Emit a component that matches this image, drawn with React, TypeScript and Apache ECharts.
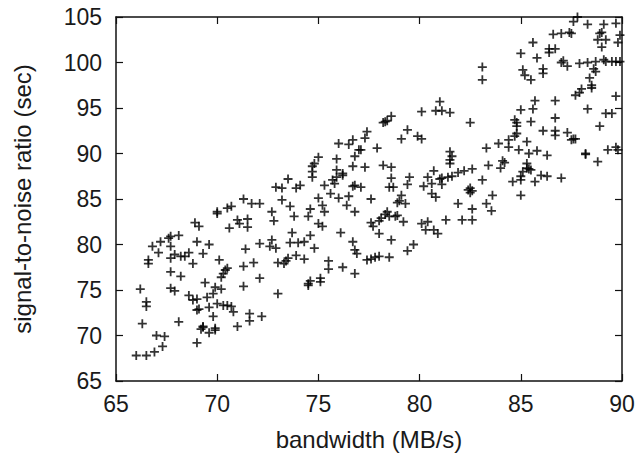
import React, { useEffect, useRef } from "react";
import * as echarts from "echarts";

// [bandwidth (MB/s), signal-to-noise ratio (sec)]
const points66to71: number[][] = [
  [66.2,75.1],[66.3,71.3],[66.5,73.7],[66.5,73.2],[66.0,67.8],[66.5,67.8],[66.9,68.2],[67.3,68.8],[67.0,70.0],[67.4,69.9],
  [66.6,78.3],[66.6,77.9],[66.8,79.8],[67.1,79.1],[67.2,80.3],[67.6,80.7],[67.7,80.9],[67.7,79.8],[68.1,81.0],[67.7,78.5],
  [67.9,78.9],[68.2,78.7],[68.4,78.7],[68.6,79.1],[68.8,77.9],[67.7,77.0],[68.2,76.5],[67.7,75.2],[67.9,74.9],[68.1,71.5],
  [69.0,69.2],[68.9,82.4],[69.1,82.0],[69.0,80.3],[69.6,80.0],[69.3,79.0],[70.1,78.3],[68.6,74.4],[68.8,73.9],[69.0,74.0],
  [69.0,72.8],[69.1,72.9],[69.4,75.8],[69.9,75.3],[70.2,75.1],[69.8,74.6],[69.5,74.2],[70.0,73.5],[69.6,73.1],[70.3,73.3],
  [69.8,72.1],[69.3,71.0],[69.3,70.9],[69.2,70.7],[69.6,70.3],[69.9,70.6],[69.9,70.8],[70.0,83.6],[70.0,83.4],[70.5,84.0],
  [70.7,84.2],[70.6,81.8],[70.2,76.4],[70.3,76.8],[70.4,77.2],[70.5,77.4],[70.5,73.3],[70.7,73.2],[70.8,72.6],[71.0,71.0],
  [71.0,82.7],[71.1,82.3]
];

const points71to77: number[][] = [
  [71.3,85.0],[71.7,84.5],[72.1,84.5],[73.2,84.9],[73.6,84.2],[72.7,83.6],[72.8,82.6],[73.8,83.1],[74.6,83.9],[74.5,83.1],
  [75.0,85.1],[75.2,84.3],[75.3,83.6],[75.6,85.6],[76.0,85.1],[76.5,85.3],[76.4,84.3],[76.8,83.6],[75.0,82.3],[75.2,82.0],
  [71.5,82.8],[71.5,81.9],[73.7,81.3],[74.6,81.0],[76.1,81.3],[72.7,80.5],[73.6,80.2],[74.0,80.2],[74.3,80.3],[72.1,80.1],
  [72.6,79.8],[72.9,79.6],[71.4,79.5],[74.8,79.6],[76.7,80.3],[76.8,79.4],[76.9,79.0],[73.9,78.8],[74.3,78.4],[73.5,78.5],
  [73.4,78.2],[73.0,78.0],[73.3,77.9],[71.8,78.0],[71.3,77.6],[75.5,78.2],[75.5,77.3],[76.2,77.5],[76.8,76.8],[72.1,76.3],
  [71.3,75.4],[74.6,76.0],[74.5,75.5],[74.5,75.7],[75.1,76.3],[75.1,75.9],[73.0,74.6],[71.6,72.4],[71.6,71.6],[72.2,72.1],
  [76.0,91.1],[76.5,91.0],[76.7,91.5],[76.8,89.7],[77.0,90.4],[75.9,89.4],[75.0,89.6],[74.8,88.9],[74.7,88.6],[74.7,88.0],
  [74.7,87.4],[75.9,88.2],[75.9,87.4],[75.7,87.1],[76.2,87.8],[76.2,87.6],[76.7,88.6],[76.8,86.5],[76.7,86.4],[75.8,86.7],
  [75.3,86.5],[73.5,87.2],[72.9,86.3],[73.2,86.2],[73.9,86.2],[74.1,86.5]
];

const points77to83: number[][] = [
  [77.1,86.3],[78.5,86.3],[78.7,86.3],[79.4,86.6],[80.2,86.4],[80.6,86.7],[81.1,86.6],[80.6,85.6],[80.8,85.2],[79.1,85.4],
  [79.0,84.8],[78.9,84.6],[79.3,84.5],[77.6,85.0],[82.4,86.0],[82.5,86.2],[82.6,85.9],[82.5,85.7],[83.1,87.1],[81.9,84.5],
  [83.3,84.5],[82.6,83.9],[78.4,83.6],[78.3,83.3],[78.1,82.9],[78.0,82.6],[78.5,83.1],[78.8,83.1],[78.9,83.2],[77.6,82.4],
  [77.7,82.0],[79.2,82.5],[80.1,82.3],[80.4,82.5],[80.3,81.6],[80.7,81.6],[80.9,81.2],[81.3,82.7],[82.1,82.7],[82.6,82.7],
  [78.0,81.2],[78.6,80.5],[79.4,79.3],[79.7,80.0],[77.4,78.3],[77.6,78.4],[77.8,78.6],[78.0,78.7],[78.5,78.6],
  [83.1,99.5],[83.1,98.1],[81.0,95.7],[80.8,94.7],[81.1,94.7],[81.5,94.5],[80.1,94.6],[82.5,93.4],[78.6,94.1],[78.4,93.6],
  [78.2,93.4],[78.3,93.5],[77.4,92.4],[77.3,91.7],[79.4,92.6],[79.1,91.6],[79.9,91.9],[80.1,91.6],[77.1,90.4],[77.9,90.6],
  [81.5,90.2],[81.6,89.7],[81.5,89.3],[81.5,88.9],[83.3,90.6],[83.4,88.7],[77.3,88.5],[78.2,88.7],[78.6,88.5],[80.7,88.1],
  [82.6,88.3],[82.2,88.1],[81.9,87.9],[81.6,87.5],[81.4,87.4],[81.1,87.3],[81.0,87.2],[78.6,87.3],[79.5,87.4],[80.4,87.4]
];

const points83to90: number[][] = [
  [87.8,105.0],[87.6,104.5],[88.3,104.2],[89.1,104.2],[89.7,104.3],[86.6,103.1],[87.0,103.2],[87.4,103.3],[87.5,103.2],[89.0,103.3],
  [88.9,103.2],[89.9,103.0],[88.8,102.5],[89.2,102.5],[89.0,101.7],[89.8,102.2],[85.6,102.2],[86.4,101.5],[86.4,101.1],[86.7,101.5],
  [85.0,101.0],[85.8,100.5],[87.1,100.2],[87.0,100.0],[87.3,99.6],[87.9,99.9],[88.3,100.0],[88.7,100.1],[89.1,100.3],[89.2,100.1],
  [89.5,100.1],[89.7,100.1],[89.9,100.1],[88.6,99.3],[88.7,99.0],[85.1,99.2],[85.2,98.6],[85.5,98.1],[86.1,99.3],[86.1,98.8],
  [88.4,98.3],[88.5,97.5],[88.5,97.2],[88.0,97.1],[87.9,96.7],[87.7,96.4],[89.7,96.3],[85.7,95.8],[86.7,95.8],[85.6,94.9],
  [85.0,94.8],[88.3,94.9],[89.2,94.4],[89.5,94.4],[84.7,93.7],[84.8,93.4],[84.8,93.0],[85.5,93.5],[86.7,93.9],[88.9,93.0],
  [84.8,92.2],[84.7,91.9],[86.1,92.5],[86.7,92.5],[86.7,92.0],[87.3,92.3],[87.6,91.6],[87.5,91.5],[87.7,91.6],[83.9,91.1],
  [84.4,91.5],[84.4,90.7],[85.3,91.3],[84.9,90.4],[85.4,90.0],[85.8,90.3],[86.3,89.8],[88.2,90.0],[88.2,89.9],[89.3,90.4],
  [89.7,90.7],[89.8,90.4],[88.8,89.1],[84.1,89.2],[84.0,88.4],[84.2,89.0],[85.3,88.9],[85.3,88.4],[85.1,88.0],[85.5,88.2],
  [85.4,88.3],[85.0,87.5],[85.0,87.1],[84.6,86.9],[85.7,86.9],[86.0,87.6],[86.3,87.5],[87.0,87.3],[83.6,85.4],[83.55,83.7],
  [85.0,85.4]
];

const xLabel = "bandwidth (MB/s)";
const yLabel = "signal-to-noise ratio (sec)";

const FONT = "'Liberation Sans', Arial, Helvetica, sans-serif";
const PLUS = "path://M4,0H6V4H10V6H6V10H4V6H0V4H4Z";

export default function App() {
  const ref = useRef<HTMLDivElement>(null);
  useEffect(() => {
    if (!ref.current) return;
    const chart = echarts.init(ref.current, null, { renderer: "svg" });
    const lineStyle = { color: "#111", width: 1.5 };
    const tick = { show: true, inside: true, length: 7, lineStyle: { color: "#111", width: 1.2 } };
    const label = { fontSize: 23, color: "#1a1a1a", fontFamily: FONT };
    const nameStyle = { fontSize: 24, color: "#1a1a1a", fontFamily: FONT };
    const data = [...points66to71, ...points71to77, ...points77to83, ...points83to90];
    chart.setOption({
      animation: false,
      grid: { left: 116, right: 16, top: 17, bottom: 76, containLabel: false },
      xAxis: [
        {
          type: "value", min: 65, max: 90, interval: 5, position: "bottom",
          axisLine: { show: true, lineStyle }, axisTick: tick,
          axisLabel: { ...label, margin: 11 }, splitLine: { show: false },
          name: xLabel, nameLocation: "middle", nameGap: 46,
          nameTextStyle: nameStyle,
        },
        {
          type: "value", min: 65, max: 90, interval: 5, position: "top",
          axisLine: { show: true, lineStyle }, axisTick: tick,
          axisLabel: { show: false }, splitLine: { show: false },
        },
      ],
      yAxis: [
        {
          type: "value", min: 65, max: 105, interval: 5, position: "left",
          axisLine: { show: true, lineStyle }, axisTick: tick,
          axisLabel: { ...label, margin: 14 }, splitLine: { show: false },
          name: yLabel, nameLocation: "middle", nameGap: 82, nameRotate: 90,
          nameTextStyle: nameStyle,
        },
        {
          type: "value", min: 65, max: 105, interval: 5, position: "right",
          axisLine: { show: true, lineStyle }, axisTick: tick,
          axisLabel: { show: false }, splitLine: { show: false },
        },
      ],
      series: [
        {
          type: "scatter", xAxisIndex: 0, yAxisIndex: 0,
          symbol: PLUS, symbolSize: 9,
          itemStyle: { color: "#000" },
          data,
          clip: false,
        },
      ],
    });
    return () => chart.dispose();
  }, []);
  return (
    <div
      ref={ref}
      style={{ position: "fixed", left: 0, top: 0, width: 638, height: 457, background: "#fff" }}
    />
  );
}
